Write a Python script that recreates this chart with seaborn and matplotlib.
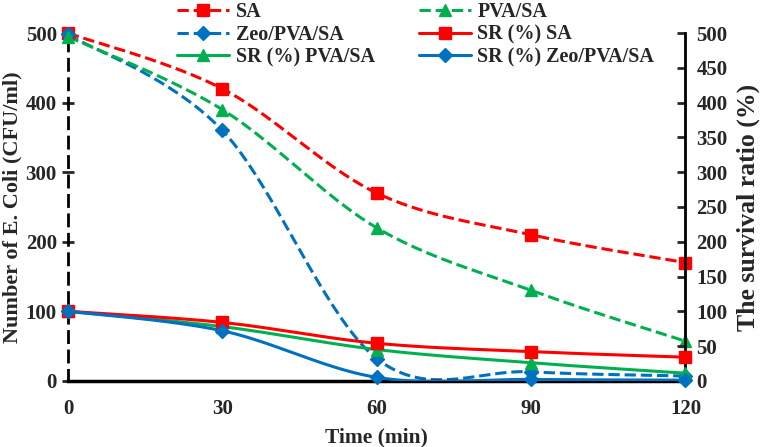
import numpy as np
import pandas as pd
import seaborn as sns
import matplotlib.pyplot as plt
from matplotlib.lines import Line2D

# data
time = [0, 30, 60, 90, 120]
cfu_sa = [500, 420, 270, 210, 170]
cfu_pva = [495, 390, 220, 130, 57]
cfu_zeo = [498, 360, 32, 13, 7]
sr_sa = [100, 84, 54, 42, 34]
sr_pva = [100, 78, 45, 26, 11]
sr_zeo = [100, 72, 5, 2, 1]

red = "#FF0000"
green = "#00B050"
blue = "#0070C0"

sns.set_style("white")
plt.rcParams["font.family"] = ["Liberation Serif", "DejaVu Serif"]
plt.rcParams["font.weight"] = "bold"


def smooth(x, y, n=40):
    # excel style smoothed line (bezier through the points)
    x = np.asarray(x, float)
    y = np.asarray(y, float)
    px = np.concatenate([[x[0]], x, [x[-1]]])
    py = np.concatenate([[y[0]], y, [y[-1]]])
    t = np.linspace(0, 1, n)
    xs, ys = [], []
    for i in range(1, len(px) - 2):
        p0, p1, p2, p3 = (np.array([px[j], py[j]]) for j in range(i - 1, i + 3))
        c1 = p1 + (p2 - p0) / 6
        c2 = p2 - (p3 - p1) / 6
        b = ((1 - t) ** 3)[:, None] * p1 + (3 * (1 - t) ** 2 * t)[:, None] * c1 \
            + (3 * (1 - t) * t ** 2)[:, None] * c2 + (t ** 3)[:, None] * p2
        xs.extend(b[:, 0])
        ys.extend(b[:, 1])
    return pd.DataFrame({"x": xs, "y": ys})


fig = plt.figure(figsize=(7.68, 4.47), dpi=100)
ax = fig.add_axes([0.0885, 0.148, 0.804, 0.778])
ax2 = ax.twinx()

series = [
    (ax, cfu_sa, red, "--", "s", 8.5, "SA"),
    (ax, cfu_zeo, blue, "--", "D", 7, "Zeo/PVA/SA"),
    (ax2, sr_pva, green, "-", "^", 8.5, "SR (%) PVA/SA"),
    (ax, cfu_pva, green, "--", "^", 8.5, "PVA/SA"),
    (ax2, sr_sa, red, "-", "s", 8.5, "SR (%) SA"),
    (ax2, sr_zeo, blue, "-", "D", 7, "SR (%) Zeo/PVA/SA"),
]

handles = []
for a, vals, col, ls, mk, ms, lab in series:
    d = smooth(time, vals)
    sns.lineplot(data=d, x="x", y="y", ax=a, color=col, linestyle=ls,
                 linewidth=2.2, sort=False, estimator=None)
    a.plot(time, vals, linestyle="none", marker=mk, markersize=ms,
           color=col, clip_on=False, zorder=5)
    handles.append(Line2D([], [], color=col, linestyle=ls, linewidth=2.2,
                          marker=mk, markersize=ms, label=lab))

for a in (ax, ax2):
    a.set_xlim(0, 120)
    a.set_ylim(0, 500)
    a.spines["top"].set_visible(False)

ax.set_xticks(time)
ax.set_yticks(range(0, 501, 100))
ax2.set_yticks(range(0, 501, 50))

ax.spines["left"].set_linestyle((0, (4, 3)))
ax.spines["left"].set_linewidth(2)
ax.spines["bottom"].set_linewidth(2.5)
ax2.spines["right"].set_linewidth(2)
ax2.spines["left"].set_visible(False)
ax2.spines["bottom"].set_visible(False)
for s in ("left", "bottom", "right"):
    ax.spines[s].set_color("black")
    ax2.spines[s].set_color("black")
ax.spines["right"].set_visible(False)

ax.tick_params(axis="y", direction="inout", length=8, width=2,
               labelsize=15, pad=4)
ax.tick_params(axis="x", direction="inout", length=8, width=2,
               labelsize=15, pad=9)
ax2.tick_params(axis="y", direction="in", length=6, width=2,
                labelsize=15, pad=8)
for lab in ax.get_xticklabels() + ax.get_yticklabels() + ax2.get_yticklabels():
    lab.set_fontweight("bold")

ax.set_xlabel("Time (min)", fontsize=15.5, fontweight="bold", labelpad=6)
ax.set_ylabel("Number of E. Coli (CFU/ml)", fontsize=16, fontweight="bold")
ax.yaxis.set_label_coords(-0.074, 0.5)
ax2.set_ylabel("The survival ratio (%)", fontsize=18.5, fontweight="bold", labelpad=6)

fig.legend(handles=handles, ncol=2, loc="upper left",
           bbox_to_anchor=(0.207, 1.035), frameon=False,
           prop={"size": 14.5, "weight": "bold"}, handlelength=2.6,
           labelspacing=0.12, columnspacing=2.2, handletextpad=0.3)

fig.savefig("out.png", dpi=100)
